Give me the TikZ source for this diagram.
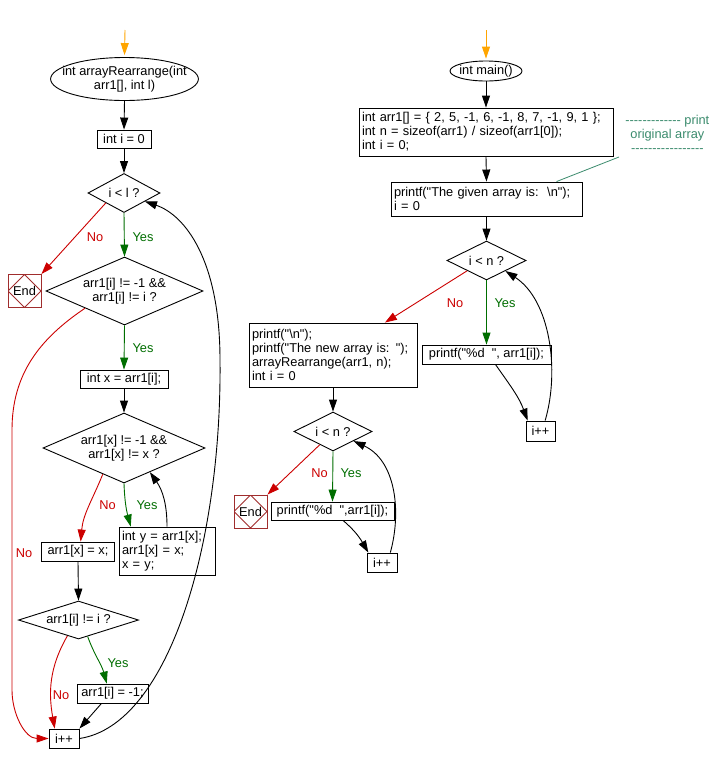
\documentclass[tikz,border=0pt]{standalone}
\usepackage{fontspec}
\setmainfont{Liberation Sans}[Ligatures=TeXOff]
\usetikzlibrary{shapes.geometric,arrows.meta}
\definecolor{cred}{RGB}{204,0,0}
\definecolor{cgreen}{RGB}{0,110,0}
\definecolor{corange}{RGB}{255,165,0}
\definecolor{cend}{RGB}{160,45,45}
\definecolor{cnote}{RGB}{60,140,110}
\begin{document}
\begin{tikzpicture}[x=1pt,y=-1pt,
  font=\fontsize{12.8}{14}\selectfont, line width=0.9pt,
  >={Triangle[length=12pt,width=8pt]},
  box/.style={draw, rectangle, inner xsep=4pt, inner ysep=0pt},
  mbox/.style={draw, rectangle, align=left, inner xsep=3pt, inner ysep=0pt},
  dia/.style={draw, diamond, inner sep=0pt, align=center},
  ell/.style={draw, ellipse, align=center, inner ysep=0pt},
  endbox/.style={draw=cend, rectangle, minimum width=33pt, minimum height=33pt, inner sep=0pt,
    path picture={\draw[cend, line width=0.8pt] (path picture bounding box.north) -- (path picture bounding box.east) -- (path picture bounding box.south) -- (path picture bounding box.west) -- cycle;}},
  flow/.style={->, black},
  yesline/.style={->, cgreen},
  noline/.style={->, cred},
  startline/.style={->, corange},
  lyes/.style={text=cgreen, inner sep=0pt},
  lno/.style={text=cred, inner sep=0pt},
]
\path[fill=white] (0,0) rectangle (714,764);
\useasboundingbox (0,0) rectangle (714,764);

% ---------- left flow ----------
\coordinate (s1) at (125,30);
\node[ell, minimum width=147pt, minimum height=43pt, inner xsep=-10pt] (f1) at (124.5,79) {int arrayRearrange(int\\arr1[], int l)};
\node[box, minimum width=54pt, minimum height=18pt] (i0) at (124,139) {int i = 0};
\node[dia, minimum width=72pt, minimum height=39pt, aspect=1.85] (d1) at (124,193) {i < l ?};
\node[endbox] (e1) at (24.5,291) {End};
\node[dia, minimum width=157pt, minimum height=68pt, aspect=2.3] (d2) at (124.5,291) {arr1[i] != -1 \&\&\\arr1[i] != i ?};
\node[box, minimum width=88pt, minimum height=18pt] (bx) at (124,379) {int x = arr1[i];};
\node[dia, minimum width=162pt, minimum height=70pt, aspect=2.3] (d3) at (124,448) {arr1[x] != -1 \&\&\\arr1[x] != x ?};
\node[mbox, text width=90pt, minimum height=48pt] (by) at (167,551) {int y = arr1[x];\\arr1[x] = x;\\x = y;};
\node[box, minimum width=73pt, minimum height=19pt] (bax) at (78,551.5) {arr1[x] = x;};
\node[dia, minimum width=120pt, minimum height=38pt, aspect=3.1] (d4) at (78.5,620) {arr1[i] != i ?};
\node[box, minimum width=71pt, minimum height=19pt] (bm1) at (112.5,693.5) {arr1[i] = -1;};
\node[box, minimum width=30pt, minimum height=19pt] (ipp) at (64,738.5) {i++};

\node[lno] at (95,237) {No};
\node[lyes] at (143,237) {Yes};
\node[lyes] at (143,348) {Yes};
\node[lno] at (24,553) {No};
\node[lno] at (107.5,505) {No};
\node[lyes] at (147,505) {Yes};
\node[lyes] at (118,663) {Yes};
\node[lno] at (61,695) {No};

\draw[startline] (s1) -- ([yshift=2pt]f1.north);
\draw[flow] (f1.south) -- (i0.north);
\draw[flow] (i0.south) -- (d1.north);
\draw[yesline] (d1.south) -- (d2.north);
\draw[noline] (d1.south west) -- (e1.north east);
\draw[noline] (d2.south west) to[out=-146,in=90] (12,430) -- (12,690) to[out=-90,in=180] (ipp.west);
\draw[yesline] (d2.south) -- (bx.north);
\draw[flow] (bx.south) -- (d3.north);
\draw[noline] (d3.231) to[out=-112,in=85] (bax.75);
\draw[yesline] (d3.south) to[out=-88,in=105] (by.146);
\draw[flow] (by.north) to[out=90,in=-55] (d3.-43);
\draw[flow] (bax.south) -- (d4.north);
\draw[yesline] (d4.-61) to[out=-70,in=105] (bm1.120);
\draw[noline] (d4.235) to[out=-120,in=100] (ipp.133);
\draw[flow] (bm1.-138) -- (ipp.north east);
\draw[flow] (ipp.east) .. controls (170,725) and (222,540) .. (220,360) .. controls (220,260) and (185,215) .. (d1.-22);

% ---------- main ----------
\coordinate (s2) at (486,30);
\node[ell, minimum width=72pt, minimum height=20pt, inner xsep=-2pt] (main) at (486,71) {int main()};
\node[mbox, text width=248pt, minimum height=48pt] (b1) at (486,132) {int arr1[] = \{ 2, 5, -1, 6, -1, 8, 7, -1, 9, 1 \};\\int n = sizeof(arr1) / sizeof(arr1[0]);\\int i = 0;};
\node[mbox, text width=185pt, minimum height=34pt] (b2) at (486.5,199) {printf("The given array is:\ \ \textbackslash n");\\i = 0};
\node[dia, minimum width=79pt, minimum height=39pt, aspect=2] (d5) at (486.5,260.5) {i < n ?};
\node[box, minimum width=129pt, minimum height=19pt] (pr1) at (486.5,354.5) {printf("\%d\ \ ", arr1[i]);};
\node[box, minimum width=29pt, minimum height=20pt] (ipp2) at (540.5,431) {i++};
\node[mbox, text width=162pt, minimum height=64pt] (b3) at (333,355) {printf("\textbackslash n");\\printf("The new array is: ");\\arrayRearrange(arr1, n);\\int i = 0};
\node[dia, minimum width=78pt, minimum height=39pt, aspect=2] (d6) at (333,431.5) {i < n ?};
\node[endbox] (e2) at (250.5,511.5) {End};
\node[box, minimum width=123pt, minimum height=18pt] (pr2) at (332.5,511) {printf("\%d\ \ ",arr1[i]);};
\node[box, minimum width=30pt, minimum height=19pt] (ipp3) at (382,562.5) {i++};
\node[text=cnote, align=center, anchor=south west, inner xsep=6pt, inner ysep=4pt] (cm) at (619,157) {------------- print\\original array\\-----------------};

\node[lno] at (455,303) {No};
\node[lyes] at (505,303) {Yes};
\node[lno] at (319.5,473) {No};
\node[lyes] at (351,473) {Yes};

\draw[startline] (s2) -- ([yshift=2pt]main.north);
\draw[flow] (main.south) -- (b1.north);
\draw[flow] (b1.south) -- (b2.north);
\draw[flow] (b2.south) -- (d5.north);
\draw[cnote, line width=0.8pt] (cm.south west) -- (b2.14);
\draw[yesline] (d5.south) -- (pr1.north);
\draw[noline] (d5.208) -- (b3.32);
\draw[flow] (pr1.-48) to[out=-55,in=110] (ipp2.141);
\draw[flow] (ipp2.66) .. controls (560,370) and (550,300) .. (d5.-29);
\draw[flow] (b3.south) -- (d6.north);
\draw[noline] (d6.225) -- (e2.north east);
\draw[yesline] (d6.south) -- (pr2.north);
\draw[flow] (pr2.-42) to[out=-40,in=120] (ipp3.144);
\draw[flow] (ipp3.50) .. controls (402,510) and (395,460) .. (d6.-25);
\end{tikzpicture}
\end{document}
